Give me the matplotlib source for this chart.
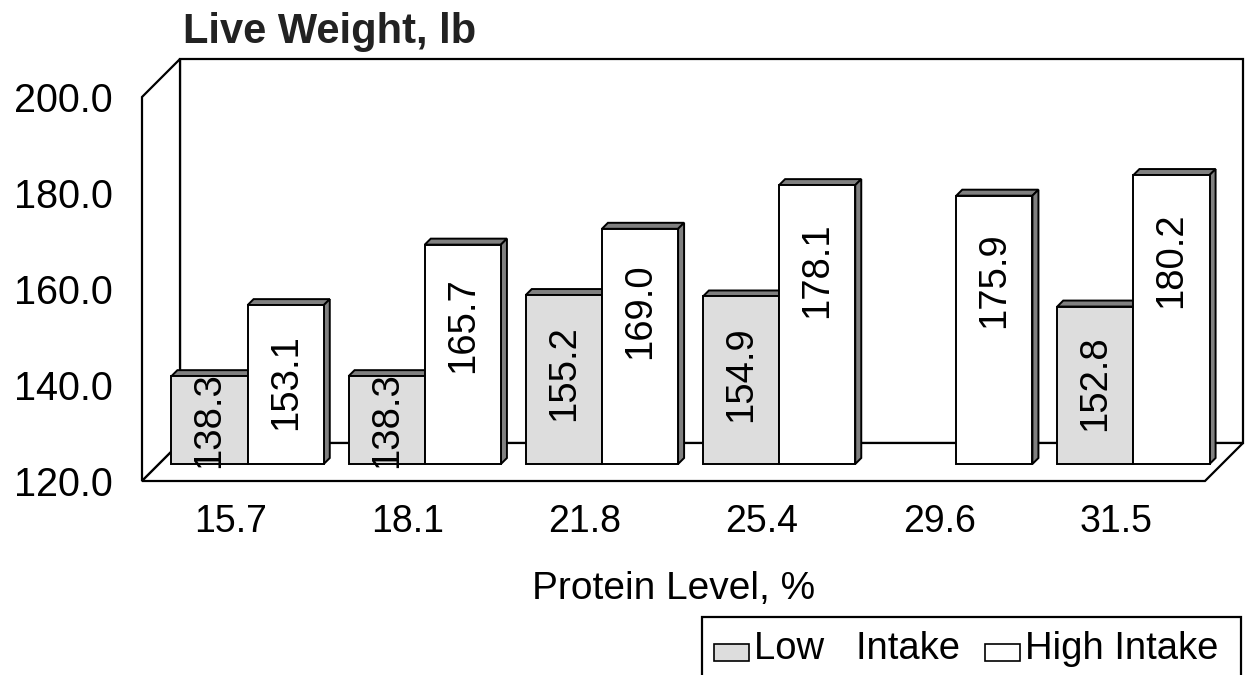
"""
Live weight by protein level, drawn as an Excel-style 3-D clustered column chart.
"""

import matplotlib
matplotlib.use("Agg")
import matplotlib.pyplot as plt
from matplotlib.patches import Polygon, Rectangle
from matplotlib.transforms import offset_copy

plt.rcParams["font.family"] = ["Liberation Sans", "DejaVu Sans"]

categories = ["15.7", "18.1", "21.8", "25.4", "29.6", "31.5"]
low_intake = [138.3, 138.3, 155.2, 154.9, None, 152.8]
high_intake = [153.1, 165.7, 169.0, 178.1, 175.9, 180.2]
series_names = ["Low   Intake", "High Intake"]
series_colors = ["#dddddd", "#ffffff"]
y_ticks = [120.0, 140.0, 160.0, 180.0, 200.0]

Y_MIN, Y_MAX = 120, 200
W, H = 1248, 675

# front plane of the plot box, in pixels
FX0, FX1, FY_BOT, FY_TOP = 142, 1205, 481, 97
DEPTH_PX = 38      # depth of the walls / floor
BAR_SHIFT_PX = 17  # bars sit part way into the depth
BAR_THICK_PX = 6   # visible depth of each column
BAR_W = 0.43       # width of one column in category units
# Excel pushes the "center" labels of the taller columns upward
LABEL_LIFT_FROM = 152.0
LABEL_LIFT_PX = 2.1


def main():
    n = len(categories)
    px_x = (FX1 - FX0) / n
    px_y = (FY_BOT - FY_TOP) / (Y_MAX - Y_MIN)
    DX, DY = DEPTH_PX / px_x, DEPTH_PX / px_y
    bx, by = BAR_SHIFT_PX / px_x, BAR_SHIFT_PX / px_y
    tx, ty = BAR_THICK_PX / px_x, BAR_THICK_PX / px_y

    fig = plt.figure(figsize=(W / 100, H / 100), dpi=100)
    ax = fig.add_axes([FX0 / W, (H - FY_BOT) / H,
                       (FX1 - FX0 + DEPTH_PX) / W, (FY_BOT - FY_TOP + DEPTH_PX) / H])
    ax.set_xlim(0, n + DX)
    ax.set_ylim(Y_MIN, Y_MAX + DY)
    ax.axis("off")

    wall_kw = dict(closed=True, fc="white", ec="black", lw=1.6, clip_on=False)
    # back wall, left wall, floor
    ax.add_patch(Polygon([(DX, Y_MIN + DY), (DX, Y_MAX + DY), (n + DX, Y_MAX + DY),
                          (n + DX, Y_MIN + DY)], zorder=1, **wall_kw))
    ax.add_patch(Polygon([(0, Y_MIN), (0, Y_MAX), (DX, Y_MAX + DY), (DX, Y_MIN + DY)],
                         zorder=1, **wall_kw))
    ax.add_patch(Polygon([(0, Y_MIN), (n, Y_MIN), (n + DX, Y_MIN + DY), (DX, Y_MIN + DY)],
                         zorder=2, **wall_kw))

    face_kw = dict(closed=True, ec="black", lw=1.4, clip_on=False)
    z = 3
    for i in range(n):
        for s, values in enumerate([low_intake, high_intake]):
            v = values[i]
            if v is None:
                continue
            x0 = i + 0.5 - BAR_W + s * BAR_W + bx
            x1 = x0 + BAR_W
            y0, y1 = Y_MIN + by, v + by
            ax.add_patch(Polygon([(x0, y1), (x0 + tx, y1 + ty), (x1 + tx, y1 + ty), (x1, y1)],
                                 fc="#808080", zorder=z, **face_kw))
            ax.add_patch(Polygon([(x1, y0), (x1 + tx, y0 + ty), (x1 + tx, y1 + ty), (x1, y1)],
                                 fc="#808080", zorder=z, **face_kw))
            ax.add_patch(Polygon([(x0, y0), (x0, y1), (x1, y1), (x1, y0)],
                                 fc=series_colors[s], zorder=z + 0.1, **face_kw))
            lift = max(0.0, v - LABEL_LIFT_FROM) * LABEL_LIFT_PX / px_y
            ax.text((x0 + x1) / 2, (y0 + y1) / 2 + lift, f"{v:.1f}", rotation=90,
                    ha="center", va="center", fontsize=27.5, zorder=z + 0.2, clip_on=False)
            z += 1

    # y tick labels
    ytr = offset_copy(ax.transData, fig=fig, x=-29, y=-15, units="dots")
    for t in y_ticks:
        ax.text(0, t, f"{t:.1f}", transform=ytr, ha="right", va="baseline", fontsize=28.5)

    # category labels
    xtr = offset_copy(ax.transData, fig=fig, x=0, y=-51, units="dots")
    for i, c in enumerate(categories):
        ax.text(i + 0.5, Y_MIN, c, transform=xtr, ha="center", va="baseline", fontsize=27)

    ttr = offset_copy(ax.transData, fig=fig, x=0, y=-118, units="dots")
    ax.text(n / 2, Y_MIN, "Protein Level, %", transform=ttr, ha="center",
            va="baseline", fontsize=28)

    fig.text(183 / W, 1 - 43 / H, "Live Weight, lb", ha="left", va="baseline",
             fontsize=30, fontweight="bold", color="#222222")

    # legend box (runs past the bottom edge, as in the original)
    fig.patches.append(Rectangle((702 / W, (H - 720) / H), (1241 - 702) / W, (720 - 617) / H,
                                 transform=fig.transFigure, fc="white", ec="black", lw=1.6))
    legend_x = [714, 985]
    for s, name in enumerate(series_names):
        lx = legend_x[s]
        fig.patches.append(Rectangle((lx / W, (H - 661) / H), 35 / W, 17 / H,
                                     transform=fig.transFigure, fc=series_colors[s],
                                     ec="black", lw=1.2))
        fig.text((lx + 40) / W, 1 - 659 / H, name, ha="left", va="baseline", fontsize=27.5)

    fig.savefig("out.png", dpi=100)


if __name__ == "__main__":
    main()
